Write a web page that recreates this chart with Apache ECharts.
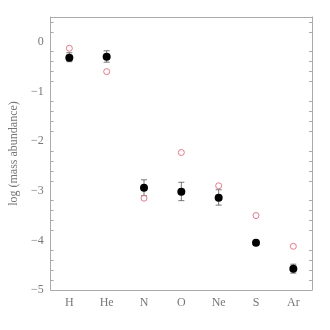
<!DOCTYPE html>
<html lang="en">
<head>
	<meta charset="UTF-8">
	<title>mass abundance</title>
    <script src="https://cdn.jsdelivr.net/npm/echarts@6/dist/echarts.min.js"></script>
</head>
<body style="margin:0;background:#fff;">
    <div id="main" style="width: 330px;height:330px;"></div>
    <script type="text/javascript">
        // elements and values
        var elements = ['H', 'He', 'N', 'O', 'Ne', 'S', 'Ar'];
        var measured = [-0.32, -0.30, -2.94, -3.02, -3.14, -4.05, -4.57];
        var errLow  = [-0.40, -0.41, -3.10, -3.20, -3.29, -4.10, -4.66];
        var errHigh = [-0.22, -0.18, -2.78, -2.83, -2.98, -4.00, -4.48];
        var solar = [-0.13, -0.60, -3.15, -2.23, -2.90, -3.50, -4.12];

        var myChart = echarts.init(document.getElementById('main'));

        var labelFont = {
            color: '#777',
            fontFamily: 'Liberation Serif',
            fontSize: 12
        };
        var lineColor = '#aaa';

        var errData = elements.map(function (e, i) {
            return [i, errLow[i], errHigh[i]];
        });

        option = {
            backgroundColor: '#fff',
            animation: false,
            grid: {left: 46, right: 18, top: 17, bottom: 40},
            xAxis: [{
                type: 'category',
                data: elements,
                boundaryGap: true,
                axisLine: {onZero: false, lineStyle: {color: lineColor}},
                axisTick: {inside: true, alignWithLabel: true, length: 4, lineStyle: {color: lineColor}},
                axisLabel: Object.assign({margin: 7}, labelFont),
                splitLine: {show: false}
            }, {
                type: 'category',
                data: elements,
                position: 'top',
                boundaryGap: true,
                axisLine: {onZero: false, lineStyle: {color: lineColor}},
                axisTick: {inside: true, alignWithLabel: true, length: 4, lineStyle: {color: lineColor}},
                axisLabel: {show: false},
                splitLine: {show: false}
            }],
            yAxis: [{
                type: 'value',
                min: -5,
                max: 0.5,
                interval: 1,
                name: 'log (mass abundance)',
                nameLocation: 'middle',
                nameRotate: 90,
                nameGap: 30,
                nameTextStyle: labelFont,
                axisLine: {show: true, onZero: false, lineStyle: {color: lineColor}},
                axisTick: {inside: true, length: 5, lineStyle: {color: lineColor}},
                minorTick: {show: true, splitNumber: 5, length: 3, lineStyle: {color: lineColor}},
                axisLabel: Object.assign({
                    margin: 7,
                    showMaxLabel: false,
                    formatter: function (v) { return String(v).replace('-', '\u2212'); }
                }, labelFont),
                splitLine: {show: false}
            }, {
                type: 'value',
                min: -5,
                max: 0.5,
                interval: 1,
                position: 'right',
                axisLine: {show: true, onZero: false, lineStyle: {color: lineColor}},
                axisTick: {inside: true, length: 5, lineStyle: {color: lineColor}},
                minorTick: {show: true, splitNumber: 5, length: 3, lineStyle: {color: lineColor}},
                axisLabel: {show: false},
                splitLine: {show: false}
            }],
            series: [
                {
                    name: 'error',
                    type: 'custom',
                    data: errData,
                    z: 2,
                    renderItem: function (params, api) {
                        var lo = api.coord([api.value(0), api.value(1)]);
                        var hi = api.coord([api.value(0), api.value(2)]);
                        var w = 3;
                        var style = {stroke: '#555', lineWidth: 0.8};
                        return {
                            type: 'group',
                            children: [
                                {type: 'line', shape: {x1: lo[0], y1: lo[1], x2: hi[0], y2: hi[1]}, style: style},
                                {type: 'line', shape: {x1: lo[0] - w, y1: lo[1], x2: lo[0] + w, y2: lo[1]}, style: style},
                                {type: 'line', shape: {x1: hi[0] - w, y1: hi[1], x2: hi[0] + w, y2: hi[1]}, style: style}
                            ]
                        };
                    }
                },
                {
                    name: 'measured',
                    type: 'scatter',
                    data: measured,
                    symbol: 'circle',
                    symbolSize: 8,
                    z: 3,
                    itemStyle: {color: '#000', opacity: 1}
                },
                {
                    name: 'solar',
                    type: 'scatter',
                    data: solar,
                    symbol: 'circle',
                    symbolSize: 6,
                    z: 3,
                    itemStyle: {color: 'rgba(0,0,0,0)', borderColor: '#e07a8a', borderWidth: 1, opacity: 1}
                }
            ]
        };

        myChart.setOption(option);
    </script>
</body>
</html>
